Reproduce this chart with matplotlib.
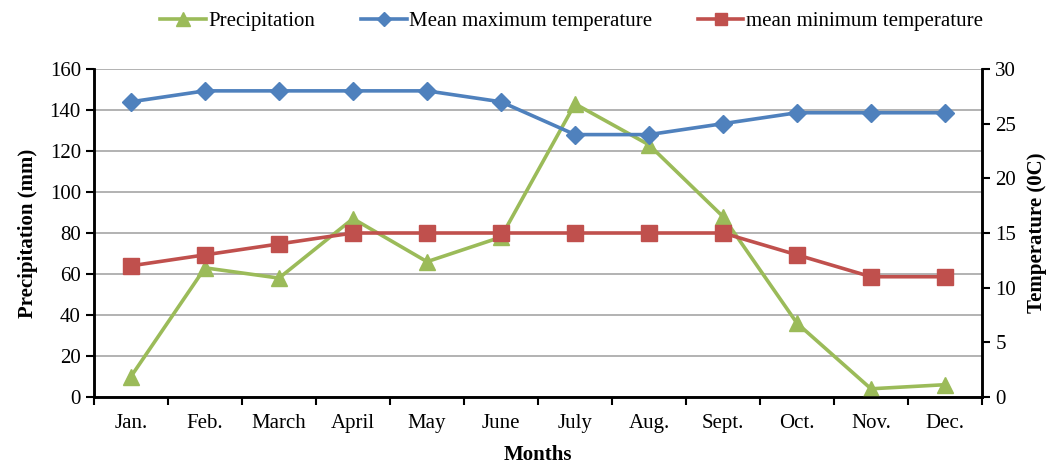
import matplotlib.pyplot as plt

plt.rcParams['font.family'] = ['Liberation Serif', 'DejaVu Serif']

months = ['Jan.', 'Feb.', 'March', 'April', 'May', 'June', 'July', 'Aug.',
          'Sept.', 'Oct.', 'Nov.', 'Dec.']
precip = [10, 63, 58, 87, 66, 78, 143, 123, 88, 36, 4, 6]
tmax = [27, 28, 28, 28, 28, 27, 24, 24, 25, 26, 26, 26]
tmin = [12, 13, 14, 15, 15, 15, 15, 15, 15, 13, 11, 11]

green = '#9BBB59'
blue = '#4F81BD'
red = '#C0504D'

fig = plt.figure(figsize=(10.58, 4.68), dpi=100)
ax1 = fig.add_axes([94 / 1058, 1 - 397 / 468, 888 / 1058, 328 / 468])
ax2 = ax1.twinx()

x = list(range(len(months)))
l1, = ax1.plot(x, precip, color=green, lw=2.6, marker='^', ms=12,
               label='Precipitation', zorder=3)
l2, = ax2.plot(x, tmax, color=blue, lw=2.6, marker='D', ms=9,
               label='Mean maximum temperature', zorder=3)
l3, = ax2.plot(x, tmin, color=red, lw=2.6, marker='s', ms=11,
               label='mean minimum temperature', zorder=3)

ax1.set_xlim(-0.5, 11.5)
ax1.set_ylim(0, 160)
ax1.set_yticks(range(0, 161, 20))
ax2.set_ylim(0, 30)
ax2.set_yticks(range(0, 31, 5))

ax1.set_xticks([i - 0.5 for i in range(13)])
ax1.set_xticklabels([])
ax1.set_xticks(x, minor=True)
ax1.set_xticklabels(months, minor=True)
ax1.tick_params(axis='x', which='major', direction='out', length=6, width=1.5)
ax1.tick_params(axis='x', which='minor', length=0, pad=12, labelsize=15)
ax1.tick_params(axis='y', direction='out', length=6, width=1.5, labelsize=15)
ax2.tick_params(axis='y', direction='out', length=6, width=1.5, labelsize=15)

ax1.yaxis.grid(True, color='#A6A6A6', lw=1.2)
ax1.set_axisbelow(True)

for ax in (ax1, ax2):
    ax.spines['top'].set_visible(False)
    for s in ('left', 'right', 'bottom'):
        ax.spines[s].set_linewidth(1.8)

ax1.set_ylabel('Precipitation (mm)', fontsize=15, fontweight='bold', labelpad=8)
ax2.set_ylabel('Temperature (0C)', fontsize=15, fontweight='bold', labelpad=8)
ax1.set_xlabel('Months', fontsize=15, fontweight='bold')
ax1.xaxis.set_label_coords(0.5, -0.145)

fig.legend(handles=[l1, l2, l3], loc='center', bbox_to_anchor=(0.54, 0.955),
           ncol=3, frameon=False, fontsize=15, handlelength=2.2,
           handletextpad=0.1, columnspacing=2.2, markerscale=0.8)

fig.savefig('out.png', dpi=100)
